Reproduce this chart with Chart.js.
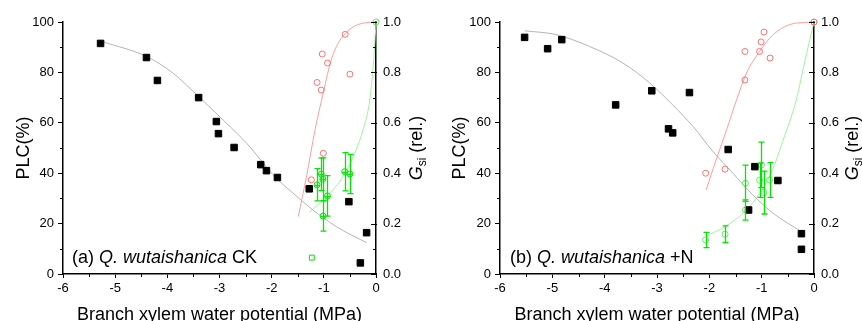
<!DOCTYPE html>
<html>
<head>
<meta charset="utf-8">
<script src="https://cdn.jsdelivr.net/npm/chart.js@4/dist/chart.umd.min.js"></script>
<style>
  html, body { margin: 0; padding: 0; background: #fff; }
  #wrap { position: relative; width: 862px; height: 321px; overflow: hidden; }
  canvas { position: absolute; top: 0; }
</style>
</head>
<body>
<div id="wrap">
  <canvas id="panelA" width="431" height="321" style="left:0"></canvas>
  <canvas id="panelB" width="431" height="321" style="left:431px"></canvas>
</div>
<script>
// ---- axis ticks ----
const psiTicks = [-6, -5, -4, -3, -2, -1, 0];
const plcTicks = [0, 20, 40, 60, 80, 100];
const gsiTicks = [0, 0.2, 0.4, 0.6, 0.8, 1.0];

// ---- (a) CK ----
const ckPsi = [-5.28, -4.40, -4.19, -3.40, -3.06, -3.02, -2.72, -2.21, -2.10, -1.89, -1.28, -0.52, -0.18, -0.30];
const ckPLC = [91.5, 85.9, 76.8, 70.0, 60.5, 55.7, 50.2, 43.4, 41.0, 38.3, 33.8, 28.7, 16.4, 4.4];
const ckFitPsi = [-5.26, -4.40, -3.89, -3.40, -2.87, -2.48, -2.16, -1.91, -1.59, -1.21, -0.76, -0.18];
const ckFitPLC = [92.3, 86.3, 79.7, 70.4, 59.9, 51.9, 44.0, 38.0, 32.1, 25.4, 18.8, 12.4];

const ckRedPsi = [-0.59, -1.03, -0.93, -1.13, -1.05, -0.50, -1.01, -1.24];
const ckRedG = [0.951, 0.873, 0.837, 0.760, 0.730, 0.793, 0.479, 0.374];
const ckRedFitPsi = [-1.49, -1.33, -1.17, -1.01, -0.85, -0.70, -0.55, -0.40, -0.20, 0];
const ckRedFitG = [0.228, 0.39, 0.57, 0.72, 0.855, 0.925, 0.962, 0.985, 0.997, 1.0];

const ckGreenPsi = [-1.13, -1.05, -1.02, -0.93, -1.015, -0.60, -0.50];
const ckGreenG = [0.354, 0.396, 0.376, 0.310, 0.230, 0.406, 0.397];
const ckGreenErr = [0.064, 0.065, 0.085, 0.080, 0.060, 0.076, 0.078];
const ckGreenLowPsi = [-1.23];
const ckGreenLowG = [0.065];
const ckGreenTopPsi = [0];
const ckGreenTopG = [1.0];
const ckGreenFitPsi = [-1.28, -0.95, -0.63, -0.38, -0.25, -0.12, -0.03, 0];
const ckGreenFitG = [0.244, 0.307, 0.387, 0.493, 0.572, 0.69, 0.89, 1.0];

// ---- (b) +N ----
const nPsi = [-5.53, -5.09, -4.82, -3.79, -3.10, -2.78, -2.70, -2.38, -1.64, -1.13, -1.25, -0.69, -0.24, -0.24];
const nPLC = [93.9, 89.4, 93.0, 67.1, 72.7, 57.6, 56.0, 72.0, 49.4, 42.6, 25.4, 37.1, 16.0, 9.8];
const nFitPsi = [-5.53, -4.93, -4.29, -3.65, -3.14, -2.70, -2.31, -1.93, -1.55, -1.17, -0.78, -0.24];
const nFitPLC = [96.5, 95.0, 90.3, 83.7, 75.8, 67.1, 58.5, 48.6, 40.0, 31.4, 24.1, 16.8];

const nRedPsi = [-0.955, -1.01, -1.04, -1.32, -0.84, -1.32, -1.70, -2.07, 0];
const nRedG = [0.960, 0.921, 0.883, 0.883, 0.857, 0.770, 0.416, 0.400, 1.0];
const nRedFitPsi = [-2.06, -1.87, -1.67, -1.48, -1.29, -1.04, -0.78, -0.46, -0.20, 0];
const nRedFitG = [0.334, 0.453, 0.572, 0.691, 0.797, 0.883, 0.950, 0.990, 0.998, 1.0];

const nGreenPsi = [-2.07, -1.70, -1.31, -1.31, -1.04, -1.005, -0.96, -0.85, 0];
const nGreenG = [0.135, 0.158, 0.360, 0.254, 0.372, 0.433, 0.323, 0.373, 1.0];
const nGreenErr = [0.030, 0.033, 0.072, 0.040, 0.068, 0.090, 0.085, 0.069, 0];
const nGreenFitPsi = [-2.07, -1.70, -1.30, -1.04, -0.80, -0.60, -0.34, -0.20, -0.08, 0];
const nGreenFitG = [0.15, 0.188, 0.252, 0.32, 0.41, 0.525, 0.69, 0.82, 0.93, 1.0];

// ---- styling ----
const FONT = '"Liberation Sans", Arial, Helvetica, sans-serif';
const GRAY_LINE = '#b4b4b4';
const RED_LINE = '#ff9c9c';
const RED_PT = '#ff7070';
const GREEN_LINE = '#9cf59c';
const GREEN_BAR = '#00e600';
const GREEN_PT_LIGHT = '#66ee66';

function pts(xs, ys) { return xs.map((x, i) => ({ x: x, y: ys[i] })); }

function curve(xs, ys, color, axis) {
  return {
    type: 'line', data: pts(xs, ys), yAxisID: axis, borderColor: color, borderWidth: 1,
    pointRadius: 0, showLine: true, fill: false, cubicInterpolationMode: 'monotone',
    order: 5, clip: false
  };
}
function markers(xs, ys, opt) {
  return Object.assign({
    type: 'scatter', data: pts(xs, ys), showLine: false, clip: false, order: 1,
    pointRadius: 3, pointHoverRadius: 3, borderWidth: 1, backgroundColor: 'rgba(0,0,0,0)'
  }, opt);
}

function drawRuns(ctx, runs, x, y, align) {
  let total = 0;
  runs.forEach(r => { ctx.font = r.font; r.w = ctx.measureText(r.text).width; total += r.w; });
  let cx = align === 'center' ? x - total / 2 : x;
  runs.forEach(r => { ctx.font = r.font; ctx.fillText(r.text, cx, y + (r.dy || 0)); cx += r.w; });
}

// error bars, minor ticks, axis titles and panel label
const decoPlugin = {
  id: 'panelDeco',
  afterDatasetsDraw(chart) {
    const ctx = chart.ctx;
    const xs = chart.scales.x;
    chart.data.datasets.forEach(ds => {
      if (!ds.errY) return;
      const ys = chart.scales[ds.yAxisID];
      ctx.save();
      ctx.strokeStyle = ds.errColor; ctx.lineWidth = 1.3;
      ds.data.forEach((p, j) => {
        const e = ds.errY[j];
        if (!e) return;
        const px = Math.round(xs.getPixelForValue(p.x)) + 0.5;
        const yt = ys.getPixelForValue(p.y + e), yb = ys.getPixelForValue(p.y - e);
        ctx.beginPath();
        ctx.moveTo(px, yt); ctx.lineTo(px, yb);
        ctx.moveTo(px - 3, yt); ctx.lineTo(px + 3, yt);
        ctx.moveTo(px - 3, yb); ctx.lineTo(px + 3, yb);
        if (ds.errX) {
          const py = Math.round(ys.getPixelForValue(p.y)) + 0.5;
          const xl = xs.getPixelForValue(p.x - ds.errX), xr = xs.getPixelForValue(p.x + ds.errX);
          ctx.moveTo(xl, py); ctx.lineTo(xr, py);
        }
        ctx.stroke();
      });
      ctx.restore();
    });
  },
  afterDraw(chart, args, opts) {
    const ctx = chart.ctx, ca = chart.chartArea;
    const xs = chart.scales.x, yl = chart.scales.y, yr = chart.scales.y2;
    ctx.save();
    ctx.strokeStyle = '#000'; ctx.lineWidth = 1;
    ctx.beginPath();
    // minor ticks: left axis (outward), bottom axis (outward)
    for (let i = 0; i < plcTicks.length - 1; i++) {
      const y = Math.round(yl.getPixelForValue((plcTicks[i] + plcTicks[i + 1]) / 2)) + 0.5;
      ctx.moveTo(ca.left - 3, y); ctx.lineTo(ca.left, y);
    }
    for (let i = 0; i < psiTicks.length - 1; i++) {
      const x = Math.round(xs.getPixelForValue((psiTicks[i] + psiTicks[i + 1]) / 2)) + 0.5;
      ctx.moveTo(x, ca.bottom); ctx.lineTo(x, ca.bottom + 3);
    }
    // right axis ticks point inward
    gsiTicks.forEach((v, i) => {
      const y = Math.round(yr.getPixelForValue(v)) + 0.5;
      ctx.moveTo(ca.right - 5, y); ctx.lineTo(ca.right + 1, y);
      if (i < gsiTicks.length - 1) {
        const ym = Math.round(yr.getPixelForValue((v + gsiTicks[i + 1]) / 2)) + 0.5;
        ctx.moveTo(ca.right - 3, ym); ctx.lineTo(ca.right, ym);
      }
    });
    ctx.stroke();

    ctx.fillStyle = '#000';
    ctx.textBaseline = 'alphabetic';
    const midY = (ca.top + ca.bottom) / 2;
    // x title
    ctx.textAlign = 'left';
    drawRuns(ctx, [{ text: 'Branch xylem water potential (MPa)', font: '18px ' + FONT }],
      (ca.left + ca.right) / 2, 319.5, 'center');
    // left title
    ctx.save();
    ctx.translate(ca.left - opts.leftTitleGap, midY);
    ctx.rotate(-Math.PI / 2);
    drawRuns(ctx, [{ text: 'PLC(%)', font: '18px ' + FONT }], 0, 0, 'center');
    ctx.restore();
    // right title
    ctx.save();
    ctx.translate(ca.right + opts.rightTitleGap, midY);
    ctx.rotate(-Math.PI / 2);
    drawRuns(ctx, [
      { text: 'G', font: 'italic 18px ' + FONT },
      { text: 'si', font: '12px ' + FONT, dy: 4 },
      { text: ' (rel.)', font: '18px ' + FONT }
    ], 0, 0, 'center');
    ctx.restore();
    // panel label
    drawRuns(ctx, [
      { text: opts.tag + ' ', font: '18px ' + FONT },
      { text: 'Q. wutaishanica', font: 'italic 18px ' + FONT },
      { text: ' ' + opts.treatment, font: '18px ' + FONT }
    ], opts.labelX, 262.5, 'left');
    ctx.restore();
  }
};

function makeChart(id, datasets, layout) {
  const tickFont = { family: FONT, size: 13 };
  return new Chart(document.getElementById(id), {
    type: 'scatter',
    data: { datasets: datasets },
    plugins: [decoPlugin],
    options: {
      responsive: false, animation: false, devicePixelRatio: 1,
      layout: { padding: { top: 22, left: 0, right: 0, bottom: 0 } },
      plugins: {
        legend: { display: false }, tooltip: { enabled: false },
        panelDeco: layout.deco
      },
      scales: {
        x: {
          type: 'linear', position: 'bottom', min: -6, max: 0,
          afterBuildTicks: s => { s.ticks = psiTicks.map(v => ({ value: v })); },
          ticks: { color: '#000', font: tickFont, padding: 3, maxRotation: 0, callback: v => String(v) },
          grid: { display: true, drawOnChartArea: false, drawTicks: true, tickLength: 4, color: '#000', lineWidth: 1 },
          border: { display: true, color: '#000', width: 1.5 },
          afterFit: s => { s.height = 47; }
        },
        y: {
          type: 'linear', position: 'left', min: 0, max: 100,
          afterBuildTicks: s => { s.ticks = plcTicks.map(v => ({ value: v })); },
          ticks: { color: '#000', font: tickFont, padding: 4, callback: v => String(v) },
          grid: { display: true, drawOnChartArea: false, drawTicks: true, tickLength: 5, color: '#000', lineWidth: 1 },
          border: { display: true, color: '#000', width: 1.5 },
          afterFit: s => { s.width = layout.left; }
        },
        y2: {
          type: 'linear', position: 'right', min: 0, max: 1,
          afterBuildTicks: s => { s.ticks = gsiTicks.map(v => ({ value: v })); },
          ticks: { color: '#000', font: tickFont, padding: 7, callback: v => v.toFixed(1) },
          grid: { display: true, drawOnChartArea: false, drawTicks: false, color: '#000' },
          border: { display: true, color: '#000', width: 1.5 },
          afterFit: s => { s.width = layout.right; }
        }
      }
    }
  });
}

makeChart('panelA', [
  markers(ckPsi, ckPLC, { yAxisID: 'y', pointStyle: 'rect', pointRadius: 4.6, backgroundColor: '#000', borderColor: '#000' }),
  markers(ckRedPsi, ckRedG, { yAxisID: 'y2', borderColor: RED_PT }),
  Object.assign(markers(ckGreenPsi, ckGreenG, { yAxisID: 'y2', borderColor: GREEN_BAR }),
    { errY: ckGreenErr, errX: 0.05, errColor: GREEN_BAR }),
  markers(ckGreenLowPsi, ckGreenLowG, { yAxisID: 'y2', pointStyle: 'rect', pointRadius: 3.5, borderColor: GREEN_BAR }),
  markers(ckGreenTopPsi, ckGreenTopG, { yAxisID: 'y2', borderColor: GREEN_PT_LIGHT }),
  curve(ckFitPsi, ckFitPLC, GRAY_LINE, 'y'),
  curve(ckRedFitPsi, ckRedFitG, RED_LINE, 'y2'),
  curve(ckGreenFitPsi, ckGreenFitG, GREEN_LINE, 'y2')
], { left: 63, right: 55, deco: { tag: '(a)', treatment: 'CK', labelX: 72, leftTitleGap: 34.5, rightTitleGap: 45.5 } });

makeChart('panelB', [
  markers(nPsi, nPLC, { yAxisID: 'y', pointStyle: 'rect', pointRadius: 4.6, backgroundColor: '#000', borderColor: '#000' }),
  markers(nRedPsi, nRedG, { yAxisID: 'y2', borderColor: RED_PT }),
  Object.assign(markers(nGreenPsi, nGreenG, { yAxisID: 'y2', borderColor: GREEN_PT_LIGHT }),
    { errY: nGreenErr, errColor: GREEN_BAR }),
  curve(nFitPsi, nFitPLC, GRAY_LINE, 'y'),
  curve(nRedFitPsi, nRedFitG, RED_LINE, 'y2'),
  curve(nGreenFitPsi, nGreenFitG, GREEN_LINE, 'y2')
], { left: 69, right: 48, deco: { tag: '(b)', treatment: '+N', labelX: 79, leftTitleGap: 35.5, rightTitleGap: 44 } });
</script>
</body>
</html>
